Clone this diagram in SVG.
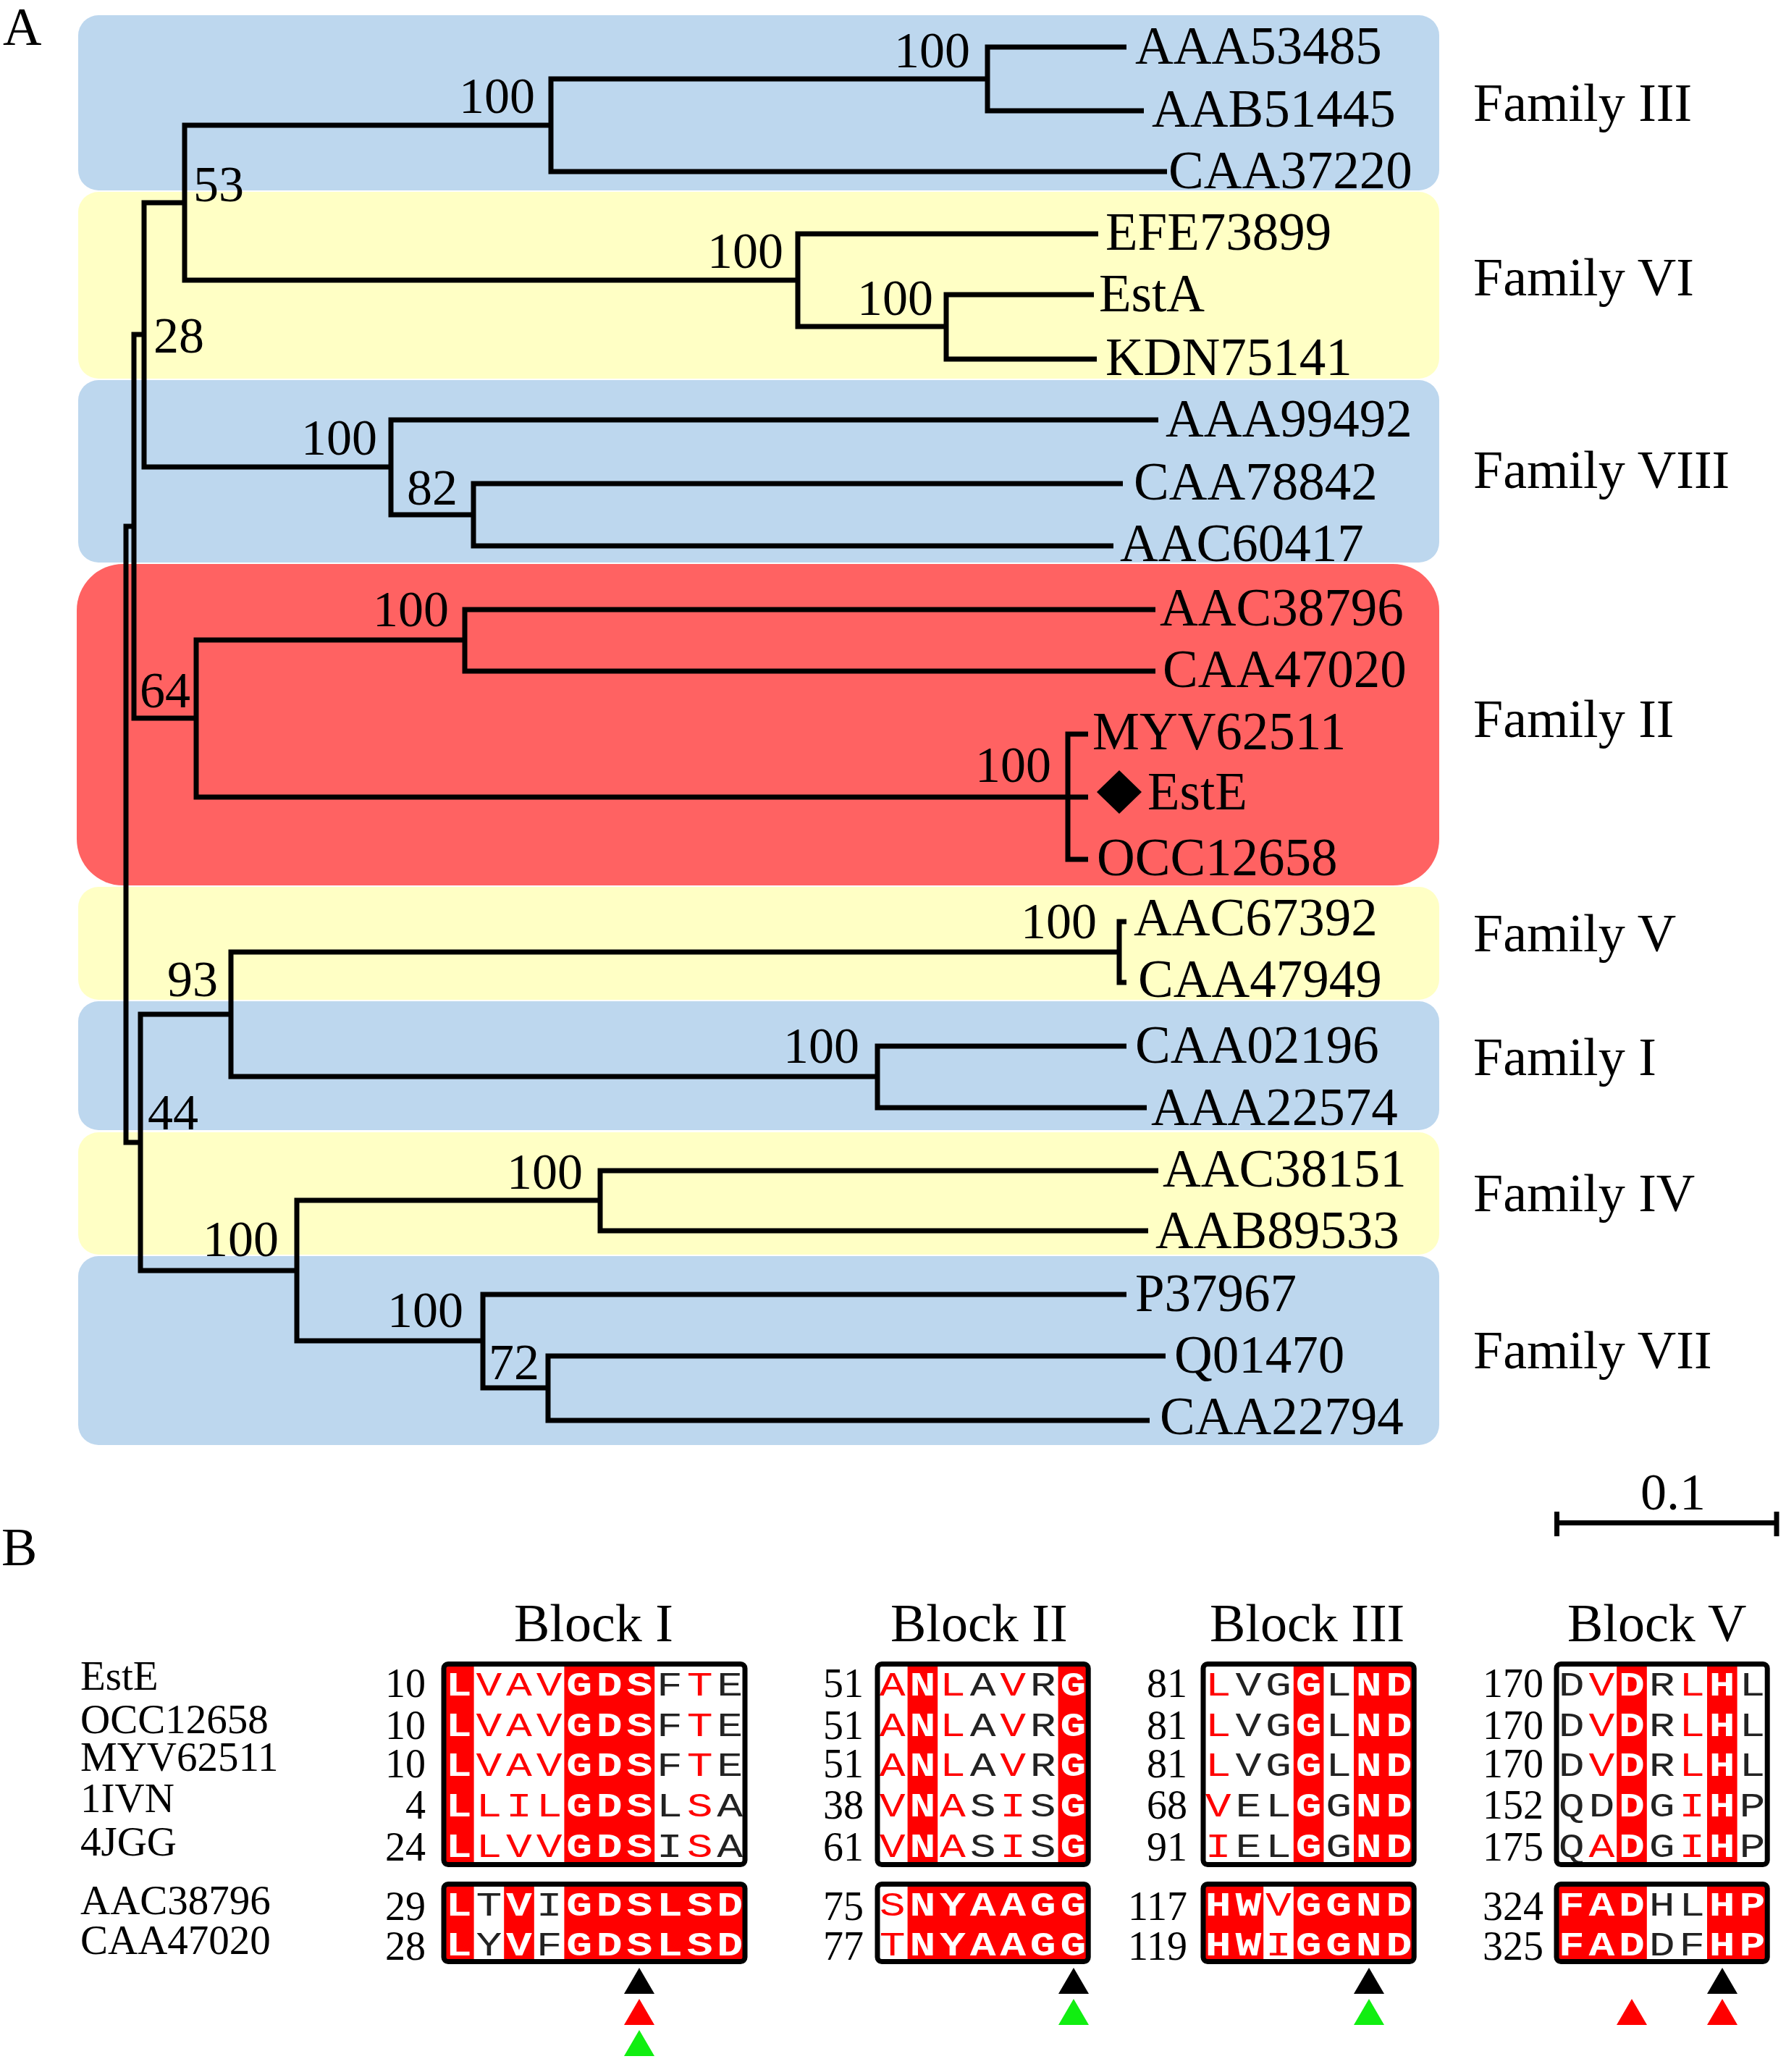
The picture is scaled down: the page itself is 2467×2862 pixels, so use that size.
<svg xmlns="http://www.w3.org/2000/svg" xmlns:xlink="http://www.w3.org/1999/xlink" width="2467" height="2862" viewBox="0 0 2467 2862">
<style>
text{font-family:"Liberation Serif","Times New Roman",serif;fill:#000}
.leaf{font-size:73px}
.bs{font-size:70px}
.bse{font-size:70px;text-anchor:end}
.fam{font-size:74px}
.big{font-size:74px}
.nm{font-size:57px}
.num{font-size:56px;text-anchor:end}
.tree path{fill:none;stroke:#000;stroke-width:7;stroke-linejoin:miter;stroke-linecap:butt}
.blue{fill:#BDD7EE}
.yel{fill:#FFFFC5}
.red{fill:#FF6262}
.cell{fill:#FF0000}
.frame{fill:none;stroke:#000;stroke-width:7}
.aa text{font-family:"Liberation Mono","Courier New",monospace;font-size:46px;text-anchor:middle}
.aa .w{fill:#fff;font-weight:bold}
.aa .r{fill:#FF0000}
.aa .k{fill:#222}
</style>
<defs>
<path id="tri" d="M0,0 L21,36 L-21,36 Z"/>
</defs>

<g id="family-backgrounds">
<rect id="bg-III" class="blue" x="108" y="21" width="1880" height="242" rx="28"/>
<rect id="bg-VI" class="yel" x="108" y="265" width="1880" height="258" rx="28"/>
<rect id="bg-VIII" class="blue" x="108" y="525" width="1880" height="252" rx="28"/>
<rect id="bg-II" class="red" x="106" y="779" width="1882" height="444" rx="64"/>
<rect id="bg-V" class="yel" x="108" y="1225" width="1880" height="156" rx="28"/>
<rect id="bg-I" class="blue" x="108" y="1383" width="1880" height="178" rx="28"/>
<rect id="bg-IV" class="yel" x="108" y="1564" width="1880" height="169" rx="28"/>
<rect id="bg-VII" class="blue" x="108" y="1735" width="1880" height="261" rx="28"/>
</g>

<text class="big" x="4" y="62">A</text>

<g id="connectors" class="tree">
<path d="M1556,65 H1364 V153 H1580"/>
<path d="M1364,109 H761 V237 H1612"/>
<path d="M761,173 H255 V387 H1102"/>
<path d="M1517,323 H1102 V451 H1307"/>
<path d="M1511,407 H1307 V496 H1515"/>
<path d="M255,280 H199 V645 H540"/>
<path d="M1600,580 H540 V711 H654"/>
<path d="M1551,668 H654 V754 H1538"/>
<path d="M199,462 H185 V992 H271"/>
<path d="M642,884 H271 V1101 H1503"/>
<path d="M1596,842 H642 V927 H1596"/>
<path d="M1503,1014 H1475 V1187 H1503"/>
<path d="M185,727 H174 V1578 H194"/>
<path d="M319,1401 H194 V1755 H410"/>
<path d="M1546,1315 H319 V1487 H1212"/>
<path d="M1556,1273 H1546 V1357 H1556"/>
<path d="M1556,1445 H1212 V1530 H1584"/>
<path d="M829,1658 H410 V1852 H667"/>
<path d="M1600,1617 H829 V1700 H1586"/>
<path d="M1556,1788 H667 V1917 H757"/>
<path d="M1610,1873 H757 V1962 H1588"/>
</g>

<g id="bootstrap">
<text class="bse" x="1340" y="93">100</text>
<text class="bse" x="739" y="156">100</text>
<text class="bs" x="267" y="278">53</text>
<text class="bse" x="1082" y="370">100</text>
<text class="bse" x="1289" y="435">100</text>
<text class="bs" x="212" y="487">28</text>
<text class="bse" x="521" y="628">100</text>
<text class="bs" x="562" y="697">82</text>
<text class="bse" x="620" y="865">100</text>
<text class="bs" x="193" y="977">64</text>
<text class="bse" x="1452" y="1080">100</text>
<text class="bse" x="1515" y="1296">100</text>
<text class="bs" x="231" y="1376">93</text>
<text class="bse" x="1187" y="1468">100</text>
<text class="bs" x="204" y="1560">44</text>
<text class="bse" x="805" y="1642">100</text>
<text class="bse" x="385" y="1735">100</text>
<text class="bse" x="640" y="1833">100</text>
<text class="bs" x="675" y="1905">72</text>
</g>

<g id="leaves">
<g id="leaf-AAA53485"><text class="leaf" x="1568" y="88">AAA53485</text></g>
<g id="leaf-AAB51445"><text class="leaf" x="1591" y="175">AAB51445</text></g>
<g id="leaf-CAA37220"><text class="leaf" x="1614" y="260">CAA37220</text></g>
<g id="leaf-EFE73899"><text class="leaf" x="1527" y="345">EFE73899</text></g>
<g id="leaf-EstA"><text class="leaf" x="1518" y="430">EstA</text></g>
<g id="leaf-KDN75141"><text class="leaf" x="1527" y="518">KDN75141</text></g>
<g id="leaf-AAA99492"><text class="leaf" x="1610" y="603">AAA99492</text></g>
<g id="leaf-CAA78842"><text class="leaf" x="1566" y="690">CAA78842</text></g>
<g id="leaf-AAC60417"><text class="leaf" x="1547" y="775">AAC60417</text></g>
<g id="leaf-AAC38796"><text class="leaf" x="1602" y="864">AAC38796</text></g>
<g id="leaf-CAA47020"><text class="leaf" x="1606" y="949">CAA47020</text></g>
<g id="leaf-MYV62511"><text class="leaf" x="1509" y="1035">MYV62511</text></g>
<g id="leaf-EstE"><polygon points="1546,1064 1577,1094 1546,1124 1515,1094" fill="#000"/><text class="leaf" x="1585" y="1118">EstE</text></g>
<g id="leaf-OCC12658"><text class="leaf" x="1515" y="1209">OCC12658</text></g>
<g id="leaf-AAC67392"><text class="leaf" x="1566" y="1292">AAC67392</text></g>
<g id="leaf-CAA47949"><text class="leaf" x="1572" y="1377">CAA47949</text></g>
<g id="leaf-CAA02196"><text class="leaf" x="1568" y="1468">CAA02196</text></g>
<g id="leaf-AAA22574"><text class="leaf" x="1590" y="1554">AAA22574</text></g>
<g id="leaf-AAC38151"><text class="leaf" x="1606" y="1639">AAC38151</text></g>
<g id="leaf-AAB89533"><text class="leaf" x="1596" y="1724">AAB89533</text></g>
<g id="leaf-P37967"><text class="leaf" x="1568" y="1811">P37967</text></g>
<g id="leaf-Q01470"><text class="leaf" x="1622" y="1896">Q01470</text></g>
<g id="leaf-CAA22794"><text class="leaf" x="1602" y="1981">CAA22794</text></g>
</g>

<g id="family-labels">
<text class="fam" x="2035" y="167">Family III</text>
<text class="fam" x="2035" y="408">Family VI</text>
<text class="fam" x="2035" y="674">Family VIII</text>
<text class="fam" x="2035" y="1018">Family II</text>
<text class="fam" x="2035" y="1314">Family V</text>
<text class="fam" x="2035" y="1485">Family I</text>
<text class="fam" x="2035" y="1673">Family IV</text>
<text class="fam" x="2035" y="1890">Family VII</text>
</g>

<g id="scale-bar">
<path d="M2150,2103.5 H2454 M2150.5,2088 V2122 M2454,2088 V2122" stroke="#000" stroke-width="7" fill="none"/>
<text class="big" x="2311" y="2085" text-anchor="middle" style="font-size:72px">0.1</text>
</g>

<text class="big" x="2" y="2162">B</text>

<g id="seq-names">
<text class="nm" x="111" y="2334">EstE</text>
<text class="nm" x="111" y="2394">OCC12658</text>
<text class="nm" x="111" y="2446">MYV62511</text>
<text class="nm" x="111" y="2503">1IVN</text>
<text class="nm" x="111" y="2563">4JGG</text>
<text class="nm" x="111" y="2644">AAC38796</text>
<text class="nm" x="111" y="2699">CAA47020</text>
</g>

<g id="block-titles">
<text class="big" x="710" y="2267">Block I</text>
<text class="big" x="1230" y="2267">Block II</text>
<text class="big" x="1671" y="2267">Block III</text>
<text class="big" x="2165" y="2267">Block V</text>
</g>

<g id="numbers">
<text class="num" x="588" y="2344">10</text><text class="num" x="588" y="2402">10</text><text class="num" x="588" y="2455">10</text><text class="num" x="588" y="2512">4</text><text class="num" x="588" y="2570">24</text><text class="num" x="588" y="2652">29</text><text class="num" x="588" y="2707">28</text>
<text class="num" x="1193" y="2344">51</text><text class="num" x="1193" y="2402">51</text><text class="num" x="1193" y="2455">51</text><text class="num" x="1193" y="2512">38</text><text class="num" x="1193" y="2570">61</text><text class="num" x="1193" y="2652">75</text><text class="num" x="1193" y="2707">77</text>
<text class="num" x="1640" y="2344">81</text><text class="num" x="1640" y="2402">81</text><text class="num" x="1640" y="2455">81</text><text class="num" x="1640" y="2512">68</text><text class="num" x="1640" y="2570">91</text><text class="num" x="1640" y="2652">117</text><text class="num" x="1640" y="2707">119</text>
<text class="num" x="2132" y="2344">170</text><text class="num" x="2132" y="2402">170</text><text class="num" x="2132" y="2455">170</text><text class="num" x="2132" y="2512">152</text><text class="num" x="2132" y="2570">175</text><text class="num" x="2132" y="2652">324</text><text class="num" x="2132" y="2707">325</text>
</g>

<g id="block-I" class="aa">
<rect class="cell" x="613" y="2299" width="41.6" height="277"/>
<rect class="cell" x="779.4" y="2299" width="124.8" height="277"/>
<rect class="cell" x="613" y="2602" width="41.6" height="108"/>
<rect class="cell" x="696.2" y="2602" width="41.6" height="108"/>
<rect class="cell" x="779.4" y="2602" width="249.6" height="108"/>
<g transform="translate(613,0) scale(1.3,1)">
<text y="2342"><tspan class="w" x="16">L</tspan><tspan class="r" x="48">V</tspan><tspan class="r" x="80">A</tspan><tspan class="r" x="112">V</tspan><tspan class="w" x="144">G</tspan><tspan class="w" x="176">D</tspan><tspan class="w" x="208">S</tspan><tspan class="k" x="240">F</tspan><tspan class="r" x="272">T</tspan><tspan class="k" x="304">E</tspan></text>
<text y="2398"><tspan class="w" x="16">L</tspan><tspan class="r" x="48">V</tspan><tspan class="r" x="80">A</tspan><tspan class="r" x="112">V</tspan><tspan class="w" x="144">G</tspan><tspan class="w" x="176">D</tspan><tspan class="w" x="208">S</tspan><tspan class="k" x="240">F</tspan><tspan class="r" x="272">T</tspan><tspan class="k" x="304">E</tspan></text>
<text y="2453"><tspan class="w" x="16">L</tspan><tspan class="r" x="48">V</tspan><tspan class="r" x="80">A</tspan><tspan class="r" x="112">V</tspan><tspan class="w" x="144">G</tspan><tspan class="w" x="176">D</tspan><tspan class="w" x="208">S</tspan><tspan class="k" x="240">F</tspan><tspan class="r" x="272">T</tspan><tspan class="k" x="304">E</tspan></text>
<text y="2509"><tspan class="w" x="16">L</tspan><tspan class="r" x="48">L</tspan><tspan class="r" x="80">I</tspan><tspan class="r" x="112">L</tspan><tspan class="w" x="144">G</tspan><tspan class="w" x="176">D</tspan><tspan class="w" x="208">S</tspan><tspan class="k" x="240">L</tspan><tspan class="r" x="272">S</tspan><tspan class="k" x="304">A</tspan></text>
<text y="2565"><tspan class="w" x="16">L</tspan><tspan class="r" x="48">L</tspan><tspan class="r" x="80">V</tspan><tspan class="r" x="112">V</tspan><tspan class="w" x="144">G</tspan><tspan class="w" x="176">D</tspan><tspan class="w" x="208">S</tspan><tspan class="k" x="240">I</tspan><tspan class="r" x="272">S</tspan><tspan class="k" x="304">A</tspan></text>
<text y="2646"><tspan class="w" x="16">L</tspan><tspan class="k" x="48">T</tspan><tspan class="w" x="80">V</tspan><tspan class="k" x="112">I</tspan><tspan class="w" x="144">G</tspan><tspan class="w" x="176">D</tspan><tspan class="w" x="208">S</tspan><tspan class="w" x="240">L</tspan><tspan class="w" x="272">S</tspan><tspan class="w" x="304">D</tspan></text>
<text y="2701"><tspan class="w" x="16">L</tspan><tspan class="k" x="48">Y</tspan><tspan class="w" x="80">V</tspan><tspan class="k" x="112">F</tspan><tspan class="w" x="144">G</tspan><tspan class="w" x="176">D</tspan><tspan class="w" x="208">S</tspan><tspan class="w" x="240">L</tspan><tspan class="w" x="272">S</tspan><tspan class="w" x="304">D</tspan></text>
</g>
<rect class="frame" x="613" y="2298.5" width="416" height="277" rx="6"/>
<rect class="frame" x="613" y="2602.5" width="416" height="107" rx="6"/>
</g>

<g id="block-II" class="aa">
<rect class="cell" x="1253.6" y="2299" width="41.6" height="277"/>
<rect class="cell" x="1461.6" y="2299" width="41.6" height="277"/>
<rect class="cell" x="1253.6" y="2602" width="249.6" height="108"/>
<g transform="translate(1212,0) scale(1.3,1)">
<text y="2342"><tspan class="r" x="16">A</tspan><tspan class="w" x="48">N</tspan><tspan class="r" x="80">L</tspan><tspan class="k" x="112">A</tspan><tspan class="r" x="144">V</tspan><tspan class="k" x="176">R</tspan><tspan class="w" x="208">G</tspan></text>
<text y="2398"><tspan class="r" x="16">A</tspan><tspan class="w" x="48">N</tspan><tspan class="r" x="80">L</tspan><tspan class="k" x="112">A</tspan><tspan class="r" x="144">V</tspan><tspan class="k" x="176">R</tspan><tspan class="w" x="208">G</tspan></text>
<text y="2453"><tspan class="r" x="16">A</tspan><tspan class="w" x="48">N</tspan><tspan class="r" x="80">L</tspan><tspan class="k" x="112">A</tspan><tspan class="r" x="144">V</tspan><tspan class="k" x="176">R</tspan><tspan class="w" x="208">G</tspan></text>
<text y="2509"><tspan class="r" x="16">V</tspan><tspan class="w" x="48">N</tspan><tspan class="r" x="80">A</tspan><tspan class="k" x="112">S</tspan><tspan class="r" x="144">I</tspan><tspan class="k" x="176">S</tspan><tspan class="w" x="208">G</tspan></text>
<text y="2565"><tspan class="r" x="16">V</tspan><tspan class="w" x="48">N</tspan><tspan class="r" x="80">A</tspan><tspan class="k" x="112">S</tspan><tspan class="r" x="144">I</tspan><tspan class="k" x="176">S</tspan><tspan class="w" x="208">G</tspan></text>
<text y="2646"><tspan class="r" x="16">S</tspan><tspan class="w" x="48">N</tspan><tspan class="w" x="80">Y</tspan><tspan class="w" x="112">A</tspan><tspan class="w" x="144">A</tspan><tspan class="w" x="176">G</tspan><tspan class="w" x="208">G</tspan></text>
<text y="2701"><tspan class="r" x="16">T</tspan><tspan class="w" x="48">N</tspan><tspan class="w" x="80">Y</tspan><tspan class="w" x="112">A</tspan><tspan class="w" x="144">A</tspan><tspan class="w" x="176">G</tspan><tspan class="w" x="208">G</tspan></text>
</g>
<rect class="frame" x="1212" y="2298.5" width="291.2" height="277" rx="6"/>
<rect class="frame" x="1212" y="2602.5" width="291.2" height="107" rx="6"/>
</g>

<g id="block-III" class="aa">
<rect class="cell" x="1786.8" y="2299" width="41.6" height="277"/>
<rect class="cell" x="1870" y="2299" width="83.2" height="277"/>
<rect class="cell" x="1662" y="2602" width="83.2" height="108"/>
<rect class="cell" x="1786.8" y="2602" width="166.4" height="108"/>
<g transform="translate(1662,0) scale(1.3,1)">
<text y="2342"><tspan class="r" x="16">L</tspan><tspan class="k" x="48">V</tspan><tspan class="k" x="80">G</tspan><tspan class="w" x="112">G</tspan><tspan class="k" x="144">L</tspan><tspan class="w" x="176">N</tspan><tspan class="w" x="208">D</tspan></text>
<text y="2398"><tspan class="r" x="16">L</tspan><tspan class="k" x="48">V</tspan><tspan class="k" x="80">G</tspan><tspan class="w" x="112">G</tspan><tspan class="k" x="144">L</tspan><tspan class="w" x="176">N</tspan><tspan class="w" x="208">D</tspan></text>
<text y="2453"><tspan class="r" x="16">L</tspan><tspan class="k" x="48">V</tspan><tspan class="k" x="80">G</tspan><tspan class="w" x="112">G</tspan><tspan class="k" x="144">L</tspan><tspan class="w" x="176">N</tspan><tspan class="w" x="208">D</tspan></text>
<text y="2509"><tspan class="r" x="16">V</tspan><tspan class="k" x="48">E</tspan><tspan class="k" x="80">L</tspan><tspan class="w" x="112">G</tspan><tspan class="k" x="144">G</tspan><tspan class="w" x="176">N</tspan><tspan class="w" x="208">D</tspan></text>
<text y="2565"><tspan class="r" x="16">I</tspan><tspan class="k" x="48">E</tspan><tspan class="k" x="80">L</tspan><tspan class="w" x="112">G</tspan><tspan class="k" x="144">G</tspan><tspan class="w" x="176">N</tspan><tspan class="w" x="208">D</tspan></text>
<text y="2646"><tspan class="w" x="16">H</tspan><tspan class="w" x="48">W</tspan><tspan class="r" x="80">V</tspan><tspan class="w" x="112">G</tspan><tspan class="w" x="144">G</tspan><tspan class="w" x="176">N</tspan><tspan class="w" x="208">D</tspan></text>
<text y="2701"><tspan class="w" x="16">H</tspan><tspan class="w" x="48">W</tspan><tspan class="r" x="80">I</tspan><tspan class="w" x="112">G</tspan><tspan class="w" x="144">G</tspan><tspan class="w" x="176">N</tspan><tspan class="w" x="208">D</tspan></text>
</g>
<rect class="frame" x="1662" y="2298.5" width="291.2" height="277" rx="6"/>
<rect class="frame" x="1662" y="2602.5" width="291.2" height="107" rx="6"/>
</g>

<g id="block-V" class="aa">
<rect class="cell" x="2233.2" y="2299" width="41.6" height="277"/>
<rect class="cell" x="2358" y="2299" width="41.6" height="277"/>
<rect class="cell" x="2150" y="2602" width="124.8" height="108"/>
<rect class="cell" x="2358" y="2602" width="83.2" height="108"/>
<g transform="translate(2150,0) scale(1.3,1)">
<text y="2342"><tspan class="k" x="16">D</tspan><tspan class="r" x="48">V</tspan><tspan class="w" x="80">D</tspan><tspan class="k" x="112">R</tspan><tspan class="r" x="144">L</tspan><tspan class="w" x="176">H</tspan><tspan class="k" x="208">L</tspan></text>
<text y="2398"><tspan class="k" x="16">D</tspan><tspan class="r" x="48">V</tspan><tspan class="w" x="80">D</tspan><tspan class="k" x="112">R</tspan><tspan class="r" x="144">L</tspan><tspan class="w" x="176">H</tspan><tspan class="k" x="208">L</tspan></text>
<text y="2453"><tspan class="k" x="16">D</tspan><tspan class="r" x="48">V</tspan><tspan class="w" x="80">D</tspan><tspan class="k" x="112">R</tspan><tspan class="r" x="144">L</tspan><tspan class="w" x="176">H</tspan><tspan class="k" x="208">L</tspan></text>
<text y="2509"><tspan class="k" x="16">Q</tspan><tspan class="k" x="48">D</tspan><tspan class="w" x="80">D</tspan><tspan class="k" x="112">G</tspan><tspan class="r" x="144">I</tspan><tspan class="w" x="176">H</tspan><tspan class="k" x="208">P</tspan></text>
<text y="2565"><tspan class="k" x="16">Q</tspan><tspan class="r" x="48">A</tspan><tspan class="w" x="80">D</tspan><tspan class="k" x="112">G</tspan><tspan class="r" x="144">I</tspan><tspan class="w" x="176">H</tspan><tspan class="k" x="208">P</tspan></text>
<text y="2646"><tspan class="w" x="16">F</tspan><tspan class="w" x="48">A</tspan><tspan class="w" x="80">D</tspan><tspan class="k" x="112">H</tspan><tspan class="k" x="144">L</tspan><tspan class="w" x="176">H</tspan><tspan class="w" x="208">P</tspan></text>
<text y="2701"><tspan class="w" x="16">F</tspan><tspan class="w" x="48">A</tspan><tspan class="w" x="80">D</tspan><tspan class="k" x="112">D</tspan><tspan class="k" x="144">F</tspan><tspan class="w" x="176">H</tspan><tspan class="w" x="208">P</tspan></text>
</g>
<rect class="frame" x="2150" y="2298.5" width="291.2" height="277" rx="6"/>
<rect class="frame" x="2150" y="2602.5" width="291.2" height="107" rx="6"/>
</g>

<g id="markers">
<use xlink:href="#tri" x="883" y="2718" fill="#000"/>
<use xlink:href="#tri" x="883" y="2761" fill="#FF0000"/>
<use xlink:href="#tri" x="883" y="2804" fill="#11EE11"/>
<use xlink:href="#tri" x="1483" y="2718" fill="#000"/>
<use xlink:href="#tri" x="1483" y="2761" fill="#11EE11"/>
<use xlink:href="#tri" x="1891" y="2718" fill="#000"/>
<use xlink:href="#tri" x="1891" y="2761" fill="#11EE11"/>
<use xlink:href="#tri" x="2379" y="2718" fill="#000"/>
<use xlink:href="#tri" x="2379" y="2761" fill="#FF0000"/>
<use xlink:href="#tri" x="2254" y="2761" fill="#FF0000"/>
</g>
</svg>
